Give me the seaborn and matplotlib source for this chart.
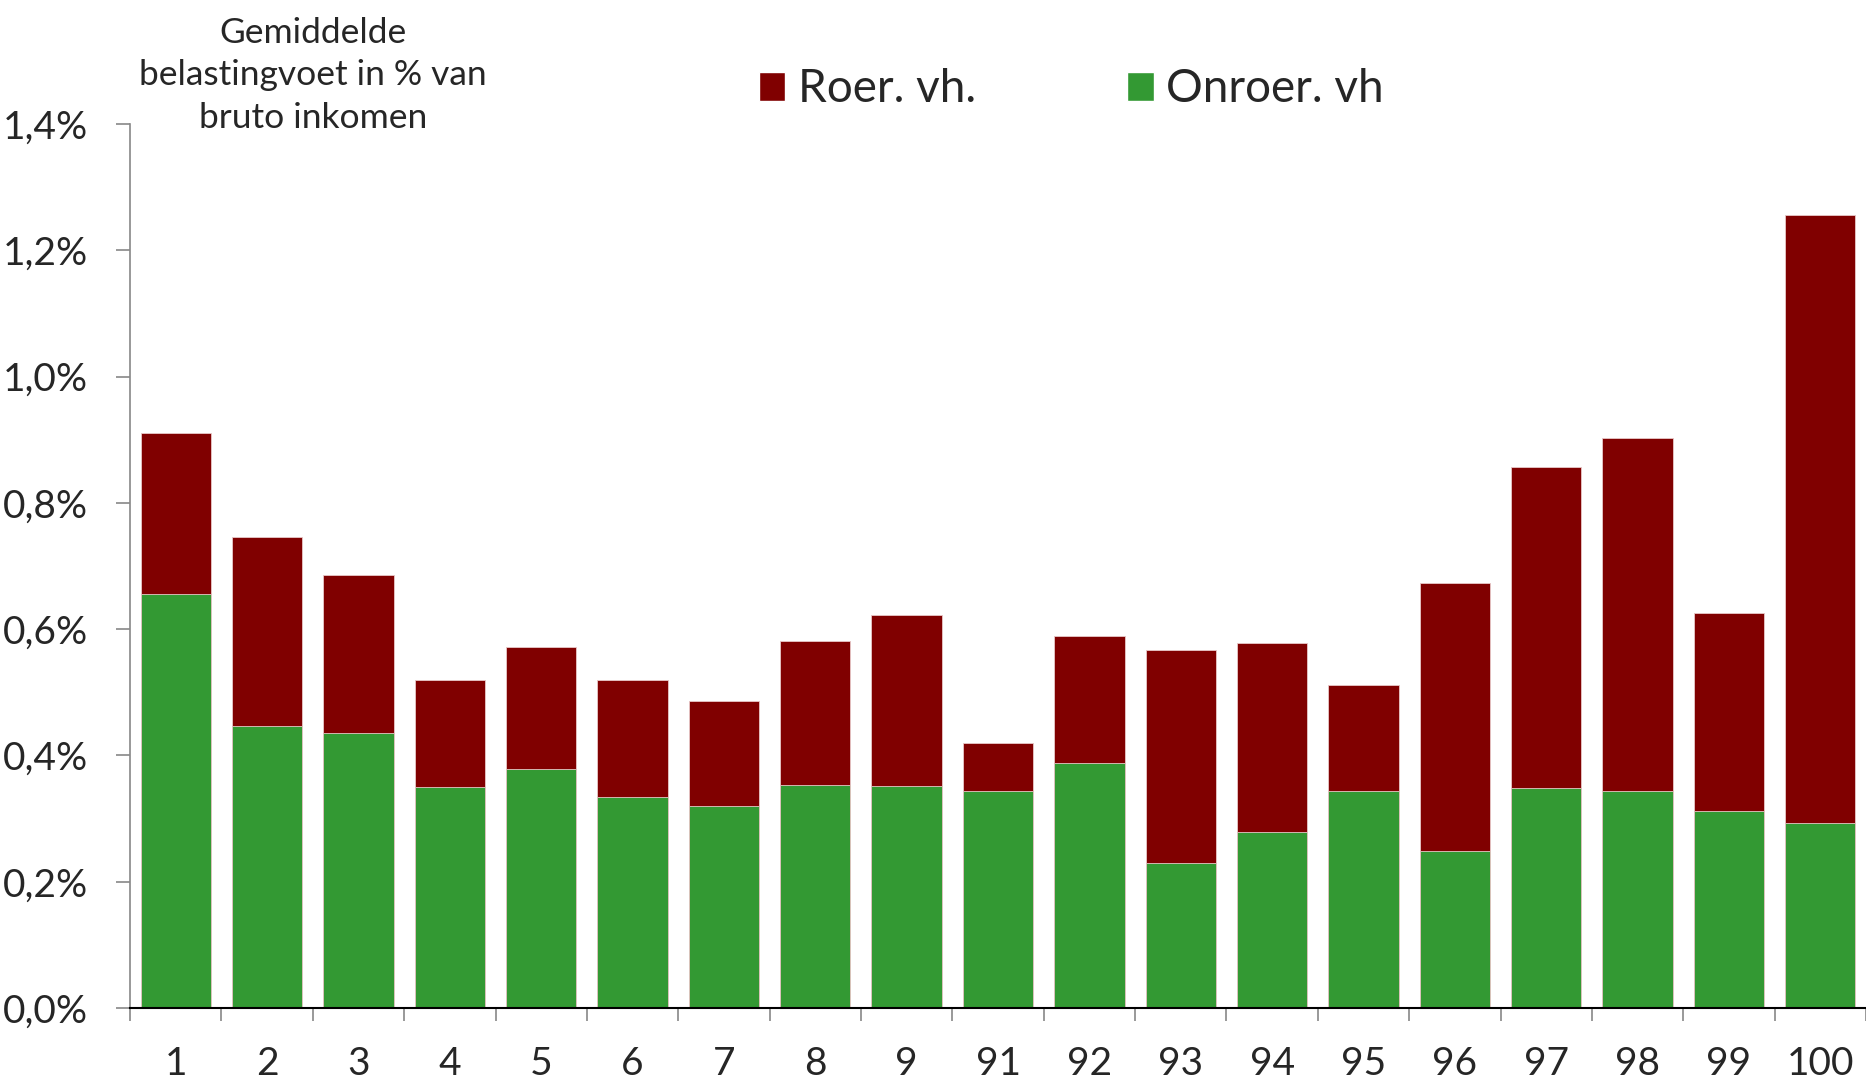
import numpy as np
import pandas as pd
import matplotlib.pyplot as plt
import seaborn as sns
from matplotlib.patches import Patch
from matplotlib.ticker import FuncFormatter

# percentielen (1-9, 91-100)
labels = ["1", "2", "3", "4", "5", "6", "7", "8", "9",
          "91", "92", "93", "94", "95", "96", "97", "98", "99", "100"]
# onroerend vermogen (groen), in %
onroer = [0.656, 0.447, 0.435, 0.350, 0.379, 0.334, 0.320, 0.353, 0.351,
          0.344, 0.388, 0.229, 0.279, 0.344, 0.248, 0.349, 0.344, 0.312, 0.293]
# roerend vermogen (rood), in %
roer = [0.254, 0.299, 0.251, 0.170, 0.192, 0.186, 0.166, 0.229, 0.271,
        0.075, 0.201, 0.338, 0.299, 0.167, 0.425, 0.507, 0.559, 0.314, 0.963]

RED = "#800000"
GREEN = "#339933"

df = pd.DataFrame({"pct": labels, "onroer": onroer, "roer": roer})
df["totaal"] = df["onroer"] + df["roer"]

sns.set_style("white")
plt.rcParams["font.family"] = ["Lato", "DejaVu Sans"]

fig = plt.figure(figsize=(18.66, 10.78), dpi=100)
ax = fig.add_axes([0.0697, 0.0649, 0.9303, 0.8201])

# totaal in rood, onroerend in groen erover -> gestapeld
sns.barplot(data=df, x="pct", y="totaal", color=RED, width=0.77,
            saturation=1, ax=ax, order=labels)
sns.barplot(data=df, x="pct", y="onroer", color=GREEN, width=0.77,
            saturation=1, ax=ax, order=labels)
for p in ax.patches:
    p.set_edgecolor("#e8c8c8")
    p.set_linewidth(0.6)

ax.set_ylim(0, 1.4)
ax.set_xlim(-0.5, len(labels) - 0.5)
ax.set_yticks(np.arange(0, 1.41, 0.2))
ax.yaxis.set_major_formatter(FuncFormatter(lambda v, _: f"{v:.1f}%".replace(".", ",")))
ax.set_xlabel("")
ax.set_ylabel("")

# streepjes tussen de categorieen
ax.set_xticks(np.arange(-0.5, len(labels), 1.0), minor=True)
ax.tick_params(axis="x", which="major", length=0, pad=27, labelsize=28)
ax.tick_params(axis="x", which="minor", direction="out", length=9.5,
               width=1.2, color="#888888", bottom=True)
ax.tick_params(axis="y", direction="out", length=10, width=1.2,
               color="#888888", pad=20, labelsize=28, left=True)

sns.despine(ax=ax, top=True, right=True)
ax.spines["left"].set_color("#888888")
ax.spines["left"].set_linewidth(1.2)
ax.spines["bottom"].set_color("black")
ax.spines["bottom"].set_linewidth(1.5)

fig.text(0.1677, 0.930, "Gemiddelde\nbelastingvoet in % van\nbruto inkomen",
         ha="center", va="center", fontsize=25.5, linespacing=1.42)

handles = [Patch(facecolor=RED, label="Roer. vh."),
           Patch(facecolor=GREEN, label="Onroer. vh")]
fig.legend(handles=handles, loc="center", bbox_to_anchor=(0.574, 0.917),
           ncol=2, frameon=False, fontsize=33, handlelength=0.58,
           handleheight=0.58, handletextpad=0.27, columnspacing=3.3)

fig.savefig("out.png", dpi=100)
